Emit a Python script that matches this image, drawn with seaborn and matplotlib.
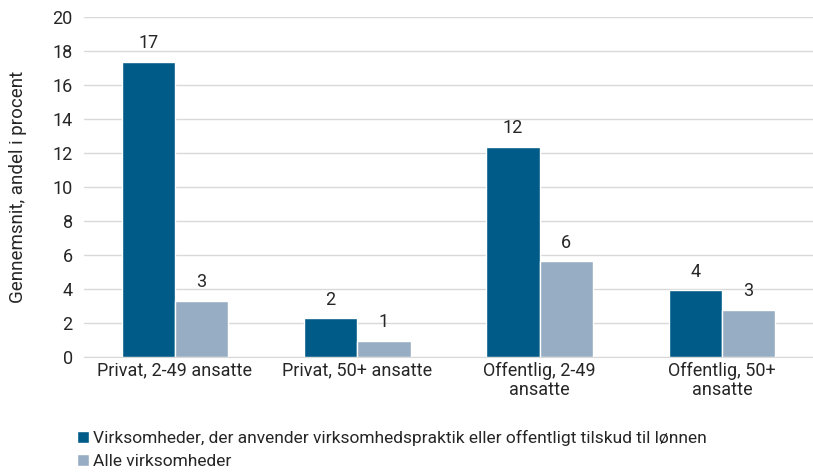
import pandas as pd
import matplotlib.pyplot as plt
import seaborn as sns

# Data
categories = ['Privat, 2-49 ansatte', 'Privat, 50+ ansatte', 'Offentlig, 2-49\nansatte', 'Offentlig, 50+\nansatte']
series_names = ['Virksomheder, der anvender virksomhedspraktik eller offentligt tilskud til lønnen',
                'Alle virksomheder']
tilskud = [17.35, 2.25, 12.35, 3.9]
alle = [3.3, 0.95, 5.6, 2.75]
colors = ['#005B88', '#97ADC4']

df = pd.DataFrame({
    'kategori': categories * 2,
    'serie': [series_names[0]] * 4 + [series_names[1]] * 4,
    'andel': tilskud + alle,
})

sns.set_style('white')
plt.rcParams['font.family'] = ['Roboto', 'DejaVu Sans']
txt = '#262626'

fig, ax = plt.subplots(figsize=(8.13, 4.75), dpi=100)
sns.barplot(data=df, x='kategori', y='andel', hue='serie', palette=colors,
            width=0.585, gap=0, saturation=1, ax=ax, zorder=3)

for cont in ax.containers:
    ax.bar_label(cont, labels=[f'{v:.0f}' for v in cont.datavalues], padding=7,
                 fontsize=13, color=txt)

ax.set_ylim(0, 20)
ax.set_yticks(range(0, 21, 2))
ax.yaxis.grid(True, color='#d9d9d9', linewidth=1, zorder=0)
ax.set_xlabel('')
ax.set_ylabel('Gennemsnit, andel i procent', fontsize=13.5, color=txt, labelpad=18)
ax.tick_params(axis='both', length=0, labelsize=13, colors=txt)
ax.tick_params(axis='y', pad=8)
for lab in ax.get_xticklabels():
    lab.set_linespacing(1.1)
for s in ['top', 'right', 'left']:
    ax.spines[s].set_visible(False)
ax.spines['bottom'].set_color('#d9d9d9')

leg = ax.legend(loc='upper left', bbox_to_anchor=(0.095, 0.095), bbox_transform=fig.transFigure,
                frameon=False, ncol=1, handlelength=0.7, handleheight=0.7, handletextpad=0.2,
                labelspacing=0.45, borderaxespad=0, borderpad=0, labelcolor=txt,
                prop={'size': 12.5})

plt.subplots_adjust(left=0.103, right=1.0, top=0.965, bottom=0.249)
plt.savefig('out.png', dpi=100)
